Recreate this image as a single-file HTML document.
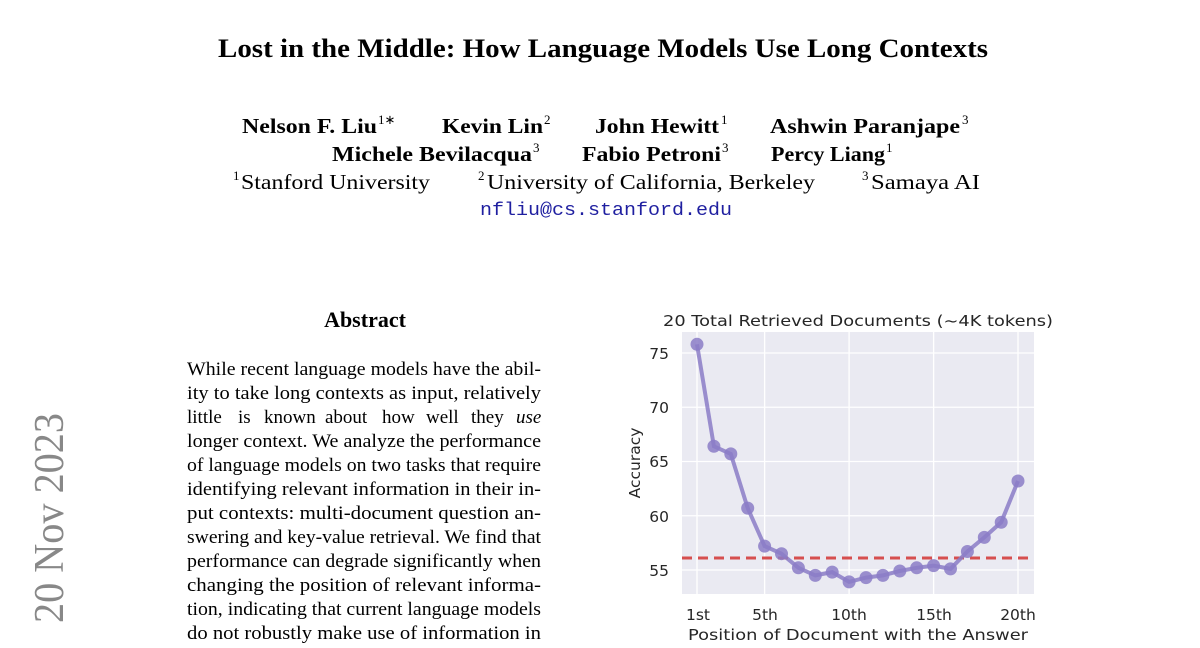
<!DOCTYPE html>
<html><head><meta charset="utf-8"><style>
html,body{margin:0;padding:0;background:#fff;width:1200px;height:648px;overflow:hidden}
svg{display:block}
.serif{font-family:"Liberation Serif",serif}
.sans{font-family:"DejaVu Sans","Liberation Sans",sans-serif;fill:#262626}
</style></head><body>
<svg width="1200" height="648" viewBox="0 0 1200 648" xmlns="http://www.w3.org/2000/svg">
<g class="serif" fill="#000">
<text x="218" y="57" font-size="26" font-weight="bold" textLength="770" lengthAdjust="spacingAndGlyphs">Lost in the Middle: How Language Models Use Long Contexts</text>
<g font-size="21" font-weight="bold">
<text x="242" y="133" textLength="135" lengthAdjust="spacingAndGlyphs">Nelson F. Liu</text><text x="378" y="124" font-size="13" font-weight="normal">1∗</text>
<text x="442" y="133" textLength="101" lengthAdjust="spacingAndGlyphs">Kevin Lin</text><text x="544" y="124" font-size="13" font-weight="normal">2</text>
<text x="595" y="133" textLength="124" lengthAdjust="spacingAndGlyphs">John Hewitt</text><text x="721" y="124" font-size="13" font-weight="normal">1</text>
<text x="770" y="133" textLength="190" lengthAdjust="spacingAndGlyphs">Ashwin Paranjape</text><text x="962" y="124" font-size="13" font-weight="normal">3</text>
<text x="332" y="161" textLength="200" lengthAdjust="spacingAndGlyphs">Michele Bevilacqua</text><text x="533" y="152" font-size="13" font-weight="normal">3</text>
<text x="582" y="161" textLength="139" lengthAdjust="spacingAndGlyphs">Fabio Petroni</text><text x="722" y="152" font-size="13" font-weight="normal">3</text>
<text x="771" y="161" textLength="114" lengthAdjust="spacingAndGlyphs">Percy Liang</text><text x="886" y="152" font-size="13" font-weight="normal">1</text>
</g>
<g font-size="21">
<text x="233" y="180" font-size="13">1</text><text x="241" y="189" textLength="189" lengthAdjust="spacingAndGlyphs">Stanford University</text>
<text x="478" y="180" font-size="13">2</text><text x="487" y="189" textLength="328" lengthAdjust="spacingAndGlyphs">University of California, Berkeley</text>
<text x="862" y="180" font-size="13">3</text><text x="871" y="189" textLength="109" lengthAdjust="spacingAndGlyphs">Samaya AI</text>
</g>
<text x="480" y="215" font-family="Liberation Mono,monospace" font-size="18" fill="#1f1fa0" textLength="252" lengthAdjust="spacingAndGlyphs">nfliu@cs.stanford.edu</text>
<text x="365" y="327" font-size="22" font-weight="bold" text-anchor="middle">Abstract</text>
<g font-size="19">
<text x="187" y="375" textLength="354" lengthAdjust="spacingAndGlyphs">While recent language models have the abil-</text>
<text x="187" y="399" textLength="354" lengthAdjust="spacingAndGlyphs">ity to take long contexts as input, relatively</text>
<text y="423"><tspan x="187">little</tspan><tspan x="238">is</tspan><tspan x="264">known</tspan><tspan x="325">about</tspan><tspan x="382">how</tspan><tspan x="426">well</tspan><tspan x="471">they</tspan><tspan x="516" font-style="italic">use</tspan></text>
<text x="187" y="447" textLength="354" lengthAdjust="spacingAndGlyphs">longer context. We analyze the performance</text>
<text x="187" y="471" textLength="354" lengthAdjust="spacingAndGlyphs">of language models on two tasks that require</text>
<text x="187" y="495" textLength="354" lengthAdjust="spacingAndGlyphs">identifying relevant information in their in-</text>
<text x="187" y="519" textLength="354" lengthAdjust="spacingAndGlyphs">put contexts: multi-document question an-</text>
<text x="187" y="543" textLength="354" lengthAdjust="spacingAndGlyphs">swering and key-value retrieval. We find that</text>
<text x="187" y="567" textLength="354" lengthAdjust="spacingAndGlyphs">performance can degrade significantly when</text>
<text x="187" y="591" textLength="354" lengthAdjust="spacingAndGlyphs">changing the position of relevant informa-</text>
<text x="187" y="615" textLength="354" lengthAdjust="spacingAndGlyphs">tion, indicating that current language models</text>
<text x="187" y="639" textLength="354" lengthAdjust="spacingAndGlyphs">do not robustly make use of information in</text>
</g>
<text transform="translate(63,623) rotate(-90)" font-size="42" fill="#888" textLength="210" lengthAdjust="spacingAndGlyphs">20 Nov 2023</text>
</g>
<rect x="682" y="332" width="352" height="262" fill="#eaeaf2"/>
<g stroke="#fff" stroke-width="1.3">
<line x1="682" x2="1034" y1="353" y2="353"/><line x1="682" x2="1034" y1="407.25" y2="407.25"/>
<line x1="682" x2="1034" y1="461.5" y2="461.5"/><line x1="682" x2="1034" y1="515.75" y2="515.75"/>
<line x1="682" x2="1034" y1="570" y2="570"/>
<line x1="697" x2="697" y1="332" y2="594"/><line x1="764.6" x2="764.6" y1="332" y2="594"/>
<line x1="849.1" x2="849.1" y1="332" y2="594"/><line x1="933.6" x2="933.6" y1="332" y2="594"/>
<line x1="1018" x2="1018" y1="332" y2="594"/>
</g>
<line x1="682" x2="1034" y1="558" y2="558" stroke="#d64f4f" stroke-width="3" stroke-dasharray="10,6"/>
<g fill="#8b7dc7" fill-opacity="0.85" stroke="none">
<polyline fill="none" stroke="#8b7dc7" stroke-opacity="0.85" stroke-width="4" points="697,344.3 713.9,446.3 730.8,453.9 747.7,508.1 764.6,546.1 781.5,553.7 798.4,567.8 815.3,575.4 832.2,572.1 849.1,581.9 866,577.6 882.9,575.4 899.8,571.0 916.7,567.8 933.6,565.6 950.5,568.9 967.4,551.5 984.3,537.4 1001.2,522.3 1018,481.0"/>
<circle cx="697" cy="344.3" r="6.5"/><circle cx="713.9" cy="446.3" r="6.5"/><circle cx="730.8" cy="453.9" r="6.5"/><circle cx="747.7" cy="508.1" r="6.5"/><circle cx="764.6" cy="546.1" r="6.5"/><circle cx="781.5" cy="553.7" r="6.5"/><circle cx="798.4" cy="567.8" r="6.5"/><circle cx="815.3" cy="575.4" r="6.5"/><circle cx="832.2" cy="572.1" r="6.5"/><circle cx="849.1" cy="581.9" r="6.5"/><circle cx="866" cy="577.6" r="6.5"/><circle cx="882.9" cy="575.4" r="6.5"/><circle cx="899.8" cy="571.0" r="6.5"/><circle cx="916.7" cy="567.8" r="6.5"/><circle cx="933.6" cy="565.6" r="6.5"/><circle cx="950.5" cy="568.9" r="6.5"/><circle cx="967.4" cy="551.5" r="6.5"/><circle cx="984.3" cy="537.4" r="6.5"/><circle cx="1001.2" cy="522.3" r="6.5"/><circle cx="1018" cy="481.0" r="6.5"/>
</g>
<g class="sans" font-size="15.5">
<text x="858" y="326" text-anchor="middle" font-size="15.5" textLength="390" lengthAdjust="spacingAndGlyphs">20 Total Retrieved Documents (~4K tokens)</text>
<g text-anchor="end"><text x="669" y="359">75</text><text x="669" y="413">70</text><text x="669" y="467">65</text><text x="669" y="522">60</text><text x="669" y="576">55</text></g>
<g text-anchor="middle"><text x="698" y="620">1st</text><text x="765" y="620">5th</text><text x="849" y="620">10th</text><text x="934" y="620">15th</text><text x="1018" y="620">20th</text></g>
<text x="858" y="640" text-anchor="middle" font-size="15.5" textLength="340" lengthAdjust="spacingAndGlyphs">Position of Document with the Answer</text>
<text transform="translate(640,463) rotate(-90)" text-anchor="middle" font-size="15.5">Accuracy</text>
</g>
</svg>
</body></html>
